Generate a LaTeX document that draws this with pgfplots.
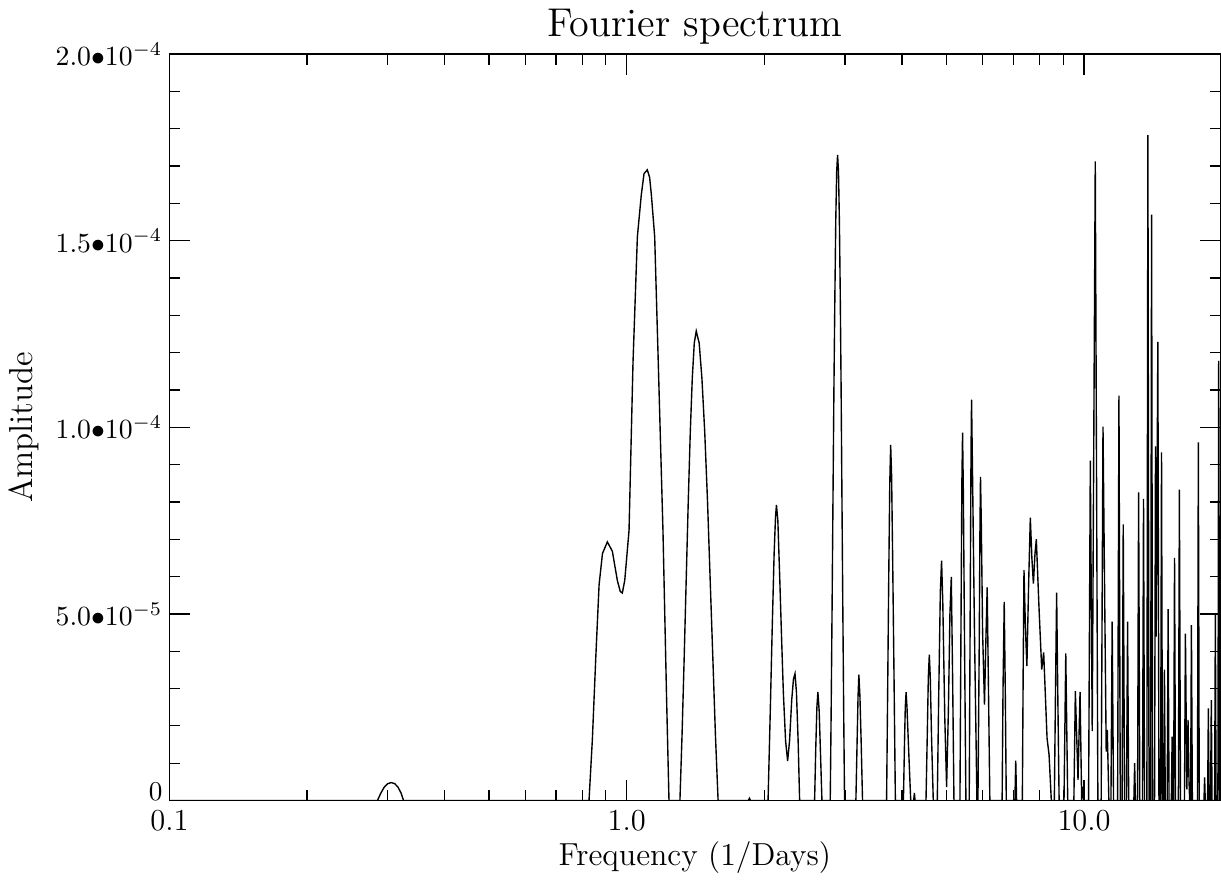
\documentclass[border=0pt]{standalone}
\usepackage{pgfplots}
\pgfplotsset{compat=1.18}
\begin{document}
\begin{tikzpicture}
\begin{axis}[
  scale only axis,
  width=379.2pt, height=269.3pt,
  xmode=log,
  xmin=0.1, xmax=19.86,
  ymin=0, ymax=2e-4,
  xtick={0.1,1,10},
  xticklabels={0.1,1.0,10.0},
  ytick={0,5e-5,1e-4,1.5e-4,2e-4},
  yticklabels={{\raisebox{3.2pt}[\height][\depth]{0}},{$5.0{\bullet}10^{-5}$},{$1.0{\bullet}10^{-4}$},{$1.5{\bullet}10^{-4}$},{$2.0{\bullet}10^{-4}$}},
  minor y tick num=4,
  scaled y ticks=false,
  tick align=inside,
  major tick length=7.5pt,
  minor tick length=3.8pt,
  every tick/.style={black, line width=0.45pt},
  axis line style={line width=0.5pt},
  xticklabel style={font=\fontsize{11}{13}\selectfont},
  yticklabel style={font=\fontsize{9.8}{12}\selectfont, xshift=1pt},
  xlabel style={font=\fontsize{11.5}{13}\selectfont, yshift=3pt},
  ylabel style={font=\fontsize{12}{14}\selectfont},
  ylabel shift=-1pt,
  title style={font=\fontsize{14.5}{17}\selectfont, yshift=-6pt},
  title={Fourier spectrum},
  xlabel={Frequency (1/Days)},
  ylabel={Amplitude},
]
\addplot[black, line width=0.5pt] coordinates {
(0.1,0) (0.285,0)
(0.290,0.20e-5) (0.295,0.36e-5) (0.300,0.45e-5) (0.3055,0.48e-5) (0.311,0.45e-5) (0.316,0.36e-5) (0.321,0.20e-5) (0.325,0)
(0.827,0)
(0.841,1.63e-5) (0.856,3.88e-5) (0.870,5.78e-5) (0.885,6.62e-5) (0.907,6.93e-5) (0.930,6.68e-5) (0.954,5.89e-5) (0.968,5.60e-5) (0.978,5.56e-5) (0.990,5.90e-5)
(1.0116,7.24e-5) (1.032,11.74e-5) (1.055,15.11e-5) (1.076,16.23e-5) (1.091,16.80e-5) (1.109,16.90e-5) (1.122,16.70e-5) (1.132,16.23e-5) (1.151,15.11e-5) (1.172,11.74e-5) (1.200,7.24e-5) (1.222,2.75e-5) (1.237,0)
(1.307,0) (1.321,1.75e-5) (1.335,3.78e-5) (1.349,5.92e-5) (1.363,8.01e-5) (1.377,9.87e-5) (1.391,11.32e-5) (1.405,12.26e-5) (1.419,12.58e-5)
(1.440,12.26e-5) (1.460,11.32e-5) (1.481,9.87e-5) (1.502,8.01e-5) (1.522,5.92e-5) (1.543,3.78e-5) (1.563,1.75e-5) (1.584,0)
(1.845,0) (1.855,0.06e-5) (1.865,0)
(2.037,0) (2.06,2.4e-5) (2.08,4.6e-5) (2.10,6.6e-5) (2.115,7.6e-5) (2.125,7.92e-5) (2.14,7.5e-5) (2.16,6.0e-5) (2.18,4.4e-5) (2.20,2.9e-5) (2.225,1.6e-5) (2.248,1.06e-5)
(2.27,1.6e-5) (2.295,2.7e-5) (2.315,3.25e-5) (2.333,3.40e-5) (2.35,2.9e-5) (2.37,1.6e-5) (2.388,0)
(2.575,0) (2.59,1.4e-5) (2.605,2.5e-5) (2.618,2.91e-5) (2.635,2.4e-5) (2.652,1.3e-5) (2.672,0)
(2.786,0) (2.799,2.41e-5) (2.812,5.19e-5) (2.825,8.14e-5) (2.838,11.01e-5) (2.852,13.57e-5) (2.865,15.58e-5) (2.878,16.86e-5) (2.891,17.3e-5)
(2.904,16.86e-5) (2.917,15.58e-5) (2.930,13.57e-5) (2.943,11.01e-5) (2.955,8.14e-5) (2.968,5.19e-5) (2.981,2.41e-5) (2.994,0)
(3.170,0) (3.19,1.6e-5) (3.205,2.8e-5) (3.218,3.37e-5) (3.235,2.8e-5) (3.255,1.6e-5) (3.278,0)
(3.70,0) (3.72,2.9e-5) (3.74,5.9e-5) (3.76,8.5e-5) (3.777,9.53e-5) (3.795,8.7e-5) (3.815,6.5e-5) (3.84,3.5e-5) (3.868,0)
(4.027,0) (4.05,1.6e-5) (4.065,2.5e-5) (4.082,2.90e-5) (4.10,2.5e-5) (4.13,1.5e-5) (4.178,0)
(4.24,0) (4.256,0.2e-5) (4.27,0)
(4.512,0) (4.54,1.7e-5) (4.565,3.3e-5) (4.588,3.91e-5) (4.61,3.3e-5) (4.64,1.7e-5) (4.68,0)
(4.776,0) (4.81,2.8e-5) (4.85,5.6e-5) (4.88,6.43e-5) (4.91,5.3e-5) (4.96,2.2e-5) (5.005,0.36e-5) (5.05,2.4e-5) (5.09,5.0e-5) (5.125,5.99e-5) (5.16,3.2e-5) (5.194,0)
(5.353,0) (5.38,4.5e-5) (5.405,8.5e-5) (5.424,9.86e-5) (5.445,8.3e-5) (5.48,4.0e-5) (5.516,0)
(5.609,0) (5.635,4.8e-5) (5.66,9.3e-5) (5.675,10.74e-5) (5.70,9.0e-5) (5.76,4.5e-5) (5.831,0)
(5.861,0) (5.90,4.3e-5) (5.92,7.2e-5) (5.937,8.67e-5) (5.96,7.5e-5) (6.00,4.5e-5) (6.057,2.57e-5) (6.10,4.3e-5) (6.14,5.71e-5) (6.18,3.0e-5) (6.223,0)
(6.62,0) (6.65,3.0e-5) (6.69,5.32e-5) (6.725,3.0e-5) (6.76,0)
(7.06,0) (7.09,1.07e-5) (7.12,0)
(7.33,0) (7.36,3.5e-5) (7.39,6.17e-5) (7.445,4.6e-5) (7.50,3.60e-5) (7.565,5.8e-5) (7.63,7.58e-5) (7.69,6.5e-5) (7.75,5.81e-5) (7.81,6.6e-5) (7.865,7.0e-5)
(7.97,5.2e-5) (8.08,3.51e-5) (8.16,3.97e-5) (8.30,1.67e-5) (8.385,1.22e-5) (8.48,0)
(8.61,0) (8.66,2.9e-5) (8.71,5.57e-5) (8.76,2.9e-5) (8.82,0)
(9.04,0) (9.12,3.94e-5) (9.21,0)
(9.50,0) (9.57,2.93e-5) (9.70,0.55e-5) (9.80,2.91e-5) (9.88,0) (9.945,0.37e-5) (9.99,0)
(10.23,0) (10.32,9.11e-5) (10.42,1.86e-5) (10.58,17.13e-5) (10.72,0)
(10.90,0) (11.0,10.02e-5) (11.18,1.31e-5) (11.24,1.89e-5) (11.33,0)
(11.45,0) (11.52,4.79e-5) (11.60,0)
(11.84,0) (11.92,10.85e-5) (12.0,0)
(12.11,0) (12.18,7.40e-5) (12.26,0)
(12.38,0) (12.45,4.79e-5) (12.52,0)
(12.85,0) (12.90,1.0e-5) (12.95,0)
(13.09,0) (13.16,8.26e-5) (13.24,0)
(13.42,0) (13.49,8.08e-5) (13.56,0)
(13.72,0) (13.79,17.83e-5) (13.87,0)
(13.98,0) (14.05,15.7e-5) (14.12,0)
(14.26,0) (14.33,9.49e-5) (14.38,4.39e-5) (14.50,12.29e-5) (14.58,0)
(14.70,0) (14.77,9.33e-5) (14.84,0)
(14.93,0) (14.99,3.51e-5) (15.05,0)
(15.20,0) (15.27,5.13e-5) (15.34,0)
(15.52,0) (15.58,1.71e-5) (15.64,0)
(15.70,0) (15.77,6.50e-5) (15.85,0)
(16.08,0) (16.16,8.33e-5) (16.25,0)
(16.58,0) (16.66,4.47e-5) (16.78,0.3e-5) (16.88,2.16e-5) (16.96,0.56e-5) (17.02,0)
(17.10,0) (17.17,4.70e-5) (17.25,0)
(17.70,0) (17.78,9.6e-5) (17.86,0)
(18.29,0) (18.35,0.62e-5) (18.41,0)
(18.63,0) (18.70,2.47e-5) (18.77,0)
(18.91,0) (18.98,2.69e-5) (19.05,0)
(19.30,0) (19.37,5.01e-5) (19.44,0)
(19.62,0) (19.70,11.78e-5) (19.80,0) (19.86,0)
};
\end{axis}
\end{tikzpicture}
\end{document}
